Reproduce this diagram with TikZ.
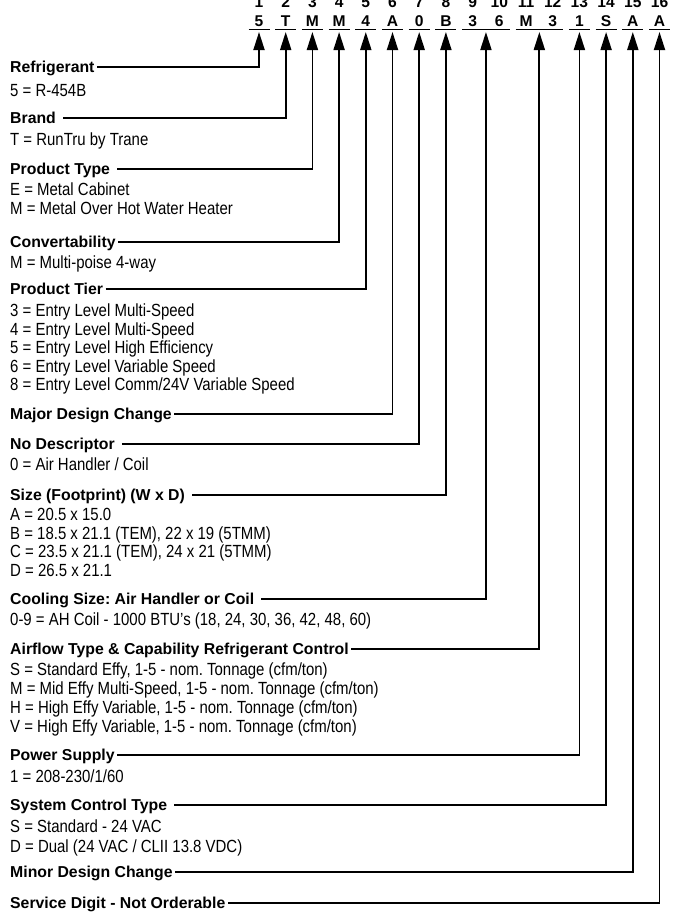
\documentclass[tikz,border=0pt]{standalone}
\usepackage{fontspec}
\setmainfont{Liberation Sans}
\newfontfamily\condfont[FakeStretch=0.85]{Liberation Sans}
\frenchspacing
\usetikzlibrary{arrows.meta}

\begin{document}
\begin{tikzpicture}[x=1pt, y=-1pt,
   head/.style={anchor=base west, inner sep=0pt, text height=11pt, text depth=0pt,
      font=\bfseries\fontsize{15.8}{18}\selectfont},
   entry/.style={anchor=base west, inner sep=0pt, font=\condfont\fontsize{17.6}{18.7}\selectfont},
   digit/.style={anchor=base, inner sep=0pt, font=\bfseries\fontsize{15.6}{18}\selectfont},
   rule/.style={line width=1pt},
   link/.style={line width=1.8pt, shorten <=2.5pt, -{Triangle[length=18pt,width=11pt]}},
   gap/.style={shorten <=7pt}]
   \clip (0,0) rectangle (681,913);
   % Model number: position numbers and digits
   \foreach \l [count=\i] in {5,T,M,M,4,A,0,B,3,6,M,3,1,S,A,A} {
      \node[digit] (n\i) at ({259+26.7*(\i-1)},7) {\i};
      \node[digit] (c\i) at ({259+26.7*(\i-1)},26) {\l};
   }
   % Underlines and arrow tips (9-10 and 11-12 share one)
   \foreach \a/\b in {1/1,2/2,3/3,4/4,5/5,6/6,7/7,8/8,9/10,11/12,13/13,14/14,15/15,16/16} {
      \draw[rule] ({259+26.7*(\a-1)-10.5},29.5) -- ({259+26.7*(\b-1)+10.5},29.5);
      \coordinate (t\a) at ({259+26.7*(\a+\b-2)/2},32);
   }
   % Refrigerant
   \node[head] (refr) at (10,72.5) {Refrigerant};
   \node[entry] (refr1) at (10,96) {5 = R-454B};
   % Brand
   \node[head] (brand) at (10,123.5) {Brand};
   \node[entry] (brand1) at (10,145.5) {T = RunTru by Trane};
   % Product Type
   \node[head] (ptype) at (10,174.5) {Product Type};
   \node[entry] (ptype1) at (10,195.5) {E = Metal Cabinet};
   \node[entry] (ptype2) at (10,214) {M = Metal Over Hot Water Heater};
   % Convertability
   \node[head] (conv) at (10,247.5) {Convertability};
   \node[entry] (conv1) at (10,268.5) {M = Multi-poise 4-way};
   % Product Tier
   \node[head] (tier) at (10,294.5) {Product Tier};
   \foreach \t [count=\k] in {{3 = Entry Level Multi-Speed},{4 = Entry Level Multi-Speed},
      {5 = Entry Level High Efficiency},{6 = Entry Level Variable Speed},
      {8 = Entry Level Comm/24V Variable Speed}}
      \node[entry] (tier\k) at (10,{316.5+18.6*(\k-1)}) {\t};
   % Major Design Change
   \node[head] (major) at (10,419.5) {Major Design Change};
   % No Descriptor
   \node[head] (nodesc) at (10,449.5) {No Descriptor};
   \node[entry] (nodesc1) at (10,470.5) {0 = Air Handler / Coil};
   % Size
   \node[head] (size) at (10,500.5) {Size (Footprint) (W x D)};
   \foreach \t [count=\k] in {{A = 20.5 x 15.0},{B = 18.5 x 21.1 (TEM), 22 x 19 (5TMM)},
      {C = 23.5 x 21.1 (TEM), 24 x 21 (5TMM)},{D = 26.5 x 21.1}}
      \node[entry] (size\k) at (10,{520.5+18.7*(\k-1)}) {\t};
   % Cooling Size
   \node[head] (cool) at (10,604.5) {Cooling Size: Air Handler or Coil};
   \node[entry] (cool1) at (10,625.5) {0-9 = AH Coil - 1000 BTU’s (18, 24, 30, 36, 42, 48, 60)};
   % Airflow Type
   \node[head] (airflow) at (10,654.5) {Airflow Type \& Capability Refrigerant Control};
   \foreach \t [count=\k] in {{S = Standard Effy, 1-5 - nom. Tonnage (cfm/ton)},
      {M = Mid Effy Multi-Speed, 1-5 - nom. Tonnage (cfm/ton)},
      {H = High Effy Variable, 1-5 - nom. Tonnage (cfm/ton)},
      {V = High Effy Variable, 1-5 - nom. Tonnage (cfm/ton)}}
      \node[entry] (airflow\k) at (10,{675.5+19*(\k-1)}) {\t};
   % Power Supply
   \node[head] (power) at (10,760.5) {Power Supply};
   \node[entry] (power1) at (10,782.5) {1 = 208-230/1/60};
   % System Control Type
   \node[head] (sysctl) at (10,810.5) {System Control Type};
   \node[entry] (sysctl1) at (10,832.5) {S = Standard - 24 VAC};
   \node[entry] (sysctl2) at (10,852.5) {D = Dual (24 VAC / CLII 13.8 VDC)};
   % Minor Design Change
   \node[head] (minor) at (10,877.5) {Minor Design Change};
   % Service Digit
   \node[head] (service) at (10,908.5) {Service Digit - Not Orderable};
   % Connectors
   \draw[link] (refr.east) -| (t1);
   \draw[link, gap] (brand.east) -| (t2);
   \draw[link, gap] (ptype.east) -| (t3);
   \draw[link] (conv.east) -| (t4);
   \draw[link] (tier.east) -| (t5);
   \draw[link] (major.east) -| (t6);
   \draw[link, gap] (nodesc.east) -| (t7);
   \draw[link, gap] (size.east) -| (t8);
   \draw[link, gap] (cool.east) -| (t9);
   \draw[link] (airflow.east) -| (t11);
   \draw[link] (power.east) -| (t13);
   \draw[link, gap] (sysctl.east) -| (t14);
   \draw[link] (minor.east) -| (t15);
   \draw[link] (service.east) -| (t16);
\end{tikzpicture}
\end{document}
